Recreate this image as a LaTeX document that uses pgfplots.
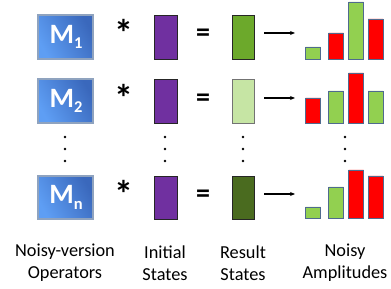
\documentclass[border=0pt]{standalone}
\usepackage{pgfplots}
\pgfplotsset{compat=1.18}
\usepackage{fontspec}
\setmainfont{Carlito}
\usetikzlibrary{arrows.meta}
\definecolor{mdark}{HTML}{3A68BC}
\definecolor{mlight}{HTML}{5E9EF4}
\definecolor{mborder}{HTML}{8FA3BF}
\definecolor{purp}{HTML}{7030A0}
\definecolor{resA}{HTML}{6CA92B}
\definecolor{resB}{HTML}{C6E5A4}
\definecolor{resC}{HTML}{4A6B1F}
\definecolor{barg}{HTML}{92D050}
\definecolor{barr}{HTML}{FF0000}
\definecolor{barb}{HTML}{4F6A8F}
\newcommand{\Mlab}[1]{{\fontsize{28}{28}\selectfont\bfseries M}\raisebox{-5.5pt}{\fontsize{16.5}{16.5}\selectfont\bfseries #1}}
\begin{document}
\begin{tikzpicture}[x=1pt,y=1pt]
\useasboundingbox (0,0) rectangle (391,289);
% M boxes
\foreach \yb/\yt/\s in {230/274/1, 166/210/2, 70/113/n}{
  \shade[shading=axis, left color=mdark, right color=mlight, shading angle=-60, draw=mborder, line width=1.1pt] (38,\yb) rectangle (93,\yt);
  \node[text=white, inner sep=0pt] at (66,{(\yb+\yt)/2}) {\Mlab{\s}};
}
% asterisks and equals
\foreach \yc in {253,188,92}{
  \node[inner sep=0pt, anchor=base] at (124,\yc-11) {\fontsize{38}{38}\selectfont\bfseries *};
  \node[inner sep=0pt, anchor=base] at (203,\yc-6) {\fontsize{28}{28}\selectfont\bfseries =};
  \draw[line width=1.4pt, -{Stealth[length=5pt,width=4pt]}] (264,\yc+3) -- (295,\yc+3);
}
% initial states
\foreach \yb/\yt in {230/274, 166/210, 70/113}{
  \draw[fill=purp, draw=black!85, line width=0.9pt] (154,\yb) rectangle (177,\yt);
}
% result states
\draw[fill=resA, draw=black!85, line width=0.9pt] (232,230) rectangle (254,274);
\draw[fill=resB, draw=black!55, line width=0.9pt] (232,166) rectangle (254,210);
\draw[fill=resC, draw=black!85, line width=0.9pt] (232,70) rectangle (254,113);
% vertical dots
\foreach \x in {65,165,243,345}{
  \foreach \yy in {152,140,128}{
    \fill (\x,\yy) circle (1.3pt);
  }
}
% labels
\foreach \x/\t in {65/{Noisy-version\\Operators}, 165/{Initial\\States}, 243/{Result\\States}, 345/{Noisy\\Amplitudes}}{
  \node[align=center, inner sep=0pt, font=\fontsize{18.3}{22}\selectfont] at (\x,26) {\t};
}
% mini bar charts
\pgfplotsset{minibar/.style={anchor=south west, x=1pt, y=1pt, xmin=300, xmax=390, ymin=0, ymax=60, hide axis, ybar, bar width=15pt, bar shift=0pt, clip=false}}
\begin{axis}[minibar, at={(300pt,230pt)}]
\addplot[fill=barg, draw=barb, line width=0.9pt] coordinates {(313,12) (356,57)};
\addplot[fill=barr, draw=barb, line width=0.9pt] coordinates {(336,26) (375.5,40)};
\end{axis}
\begin{axis}[minibar, at={(300pt,166pt)}]
\addplot[fill=barr, draw=barb, line width=0.9pt] coordinates {(313,25) (356,50)};
\addplot[fill=barg, draw=barb, line width=0.9pt] coordinates {(336,32) (375.5,32)};
\end{axis}
\begin{axis}[minibar, at={(300pt,71pt)}]
\addplot[fill=barg, draw=barb, line width=0.9pt] coordinates {(313,11) (336,31)};
\addplot[fill=barr, draw=barb, line width=0.9pt] coordinates {(356,48) (375.5,42)};
\end{axis}
\end{tikzpicture}
\end{document}
